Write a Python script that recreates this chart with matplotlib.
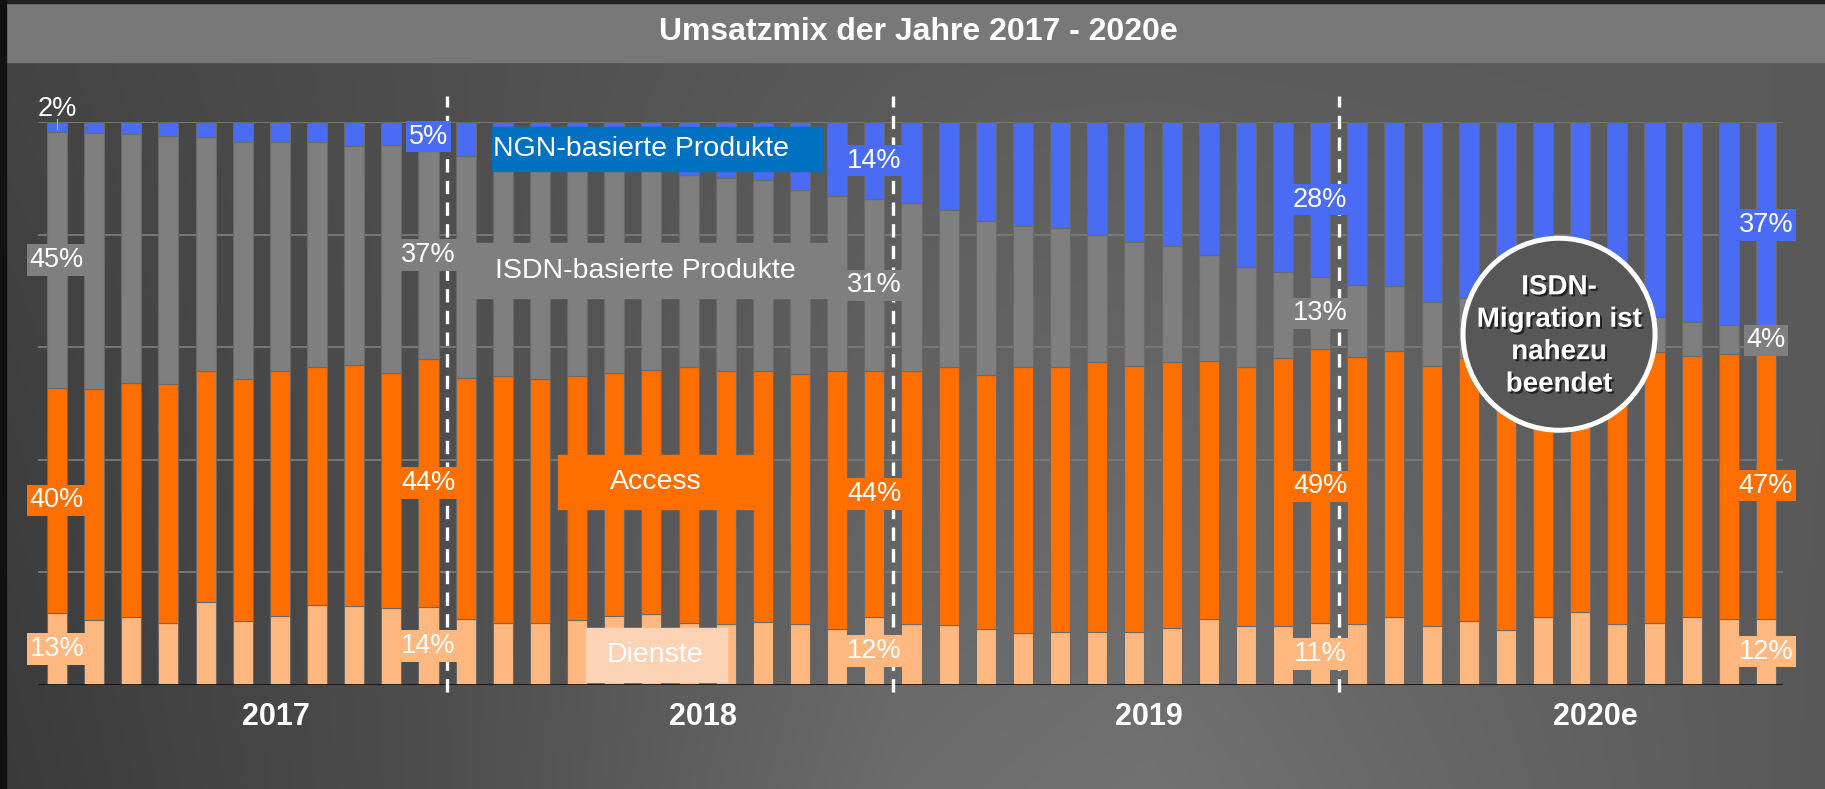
import numpy as np
import matplotlib
matplotlib.use('Agg')
import matplotlib.pyplot as plt
from matplotlib.patches import Rectangle, Ellipse
import matplotlib.patheffects as pe

plt.rcParams['font.family'] = ['Liberation Sans', 'DejaVu Sans']

# ---- data (share of revenue in %, one value per month, Feb 2017 - Dec 2020) ----
years = ['2017', '2018', '2019', '2020e']
months_per_year = [11, 12, 12, 12]
segments = ['Dienste', 'Access', 'ISDN-basierte Produkte', 'NGN-basierte Produkte']

dienste = [12.8, 11.5, 12.1, 11.1, 14.7, 11.4, 12.3, 14.2, 14.0, 13.7, 13.9,
           11.7, 11.1, 11.1, 11.5, 12.3, 12.6, 11.0, 10.8, 11.2, 10.8, 9.9, 12.1,
           10.8, 10.7, 9.9, 9.3, 9.4, 9.4, 9.5, 10.2, 11.7, 10.5, 10.4, 11.0,
           10.8, 12.0, 10.5, 11.4, 9.8, 12.1, 13.0, 10.8, 11.0, 12.1, 11.8, 11.8]
access = [40.0, 41.0, 41.5, 42.4, 41.1, 43.0, 43.5, 42.2, 42.8, 41.8, 44.0,
          42.8, 43.8, 43.3, 43.3, 43.2, 43.3, 45.4, 45.0, 44.6, 44.5, 45.9, 43.6,
          45.0, 45.7, 45.2, 47.1, 47.1, 48.0, 47.2, 47.2, 45.8, 45.9, 47.6, 48.6,
          47.5, 47.3, 46.1, 46.7, 48.7, 45.9, 46.0, 48.5, 48.1, 46.3, 47.0, 47.2]
ngn = [1.8, 1.9, 2.1, 2.4, 2.7, 3.6, 3.6, 3.6, 4.2, 4.0, 5.2,
       6.0, 6.5, 7.0, 7.4, 7.8, 8.3, 9.4, 10.0, 10.3, 12.1, 13.1, 13.7,
       14.3, 15.6, 17.5, 18.4, 18.9, 20.1, 21.4, 22.0, 23.6, 25.7, 26.7, 27.6,
       29.0, 29.2, 31.9, 31.3, 32.4, 33.0, 33.6, 34.2, 34.7, 35.6, 36.1, 36.6]
isdn = [100 - d - a - n for d, a, n in zip(dienste, access, ngn)]

labelled_bars = [0, 10, 22, 34, 46]

colors = ['#FFB880', '#FF6F00', '#7F7F7F', '#4A6BF4']
box_colors = ['#FDD3B6', '#FF6F00', '#7F7F7F', '#0070C0']

# ---- figure ----
W, H = 1825, 789
fig = plt.figure(figsize=(W / 100, H / 100), dpi=100)

# background gradient
bg = fig.add_axes([0, 0, 1, 1])
xs = np.arange(W)
top = np.interp(xs, [0, 600, 1000, 1825], [68, 82, 90, 90])
bot = np.interp(xs, [0, 450, 900, 1150, 1400, 1825], [58, 78, 108, 114, 104, 88])
t = (np.arange(H) / H)[:, None]
grey = (top[None, :] * (1 - t) + bot[None, :] * t) / 255.0
bg.imshow(np.dstack([grey] * 3), extent=[0, 1, 0, 1], aspect='auto', origin='upper')
bg.add_patch(Rectangle((6 / W, 1 - 62 / H), 1, 59 / H, color='#787878'))
bg.add_patch(Rectangle((0, 1 - 3 / H), 1, 3 / H, color='#202020'))
bg.add_patch(Rectangle((0, 0), 6 / W, 1, color='#111111'))
bg.set_xlim(0, 1)
bg.set_ylim(0, 1)
bg.axis('off')

fig.text(0.503, 1 - 31.5 / H, 'Umsatzmix der Jahre 2017 - 2020e', color='white',
         fontsize=23, fontweight='bold', ha='center', va='center')

ax = fig.add_axes([38 / W, 1 - 685 / H, 1745 / W, 563 / H])
ax.set_facecolor('none')
ax.set_xlim(-0.511, 46.458)
ax.set_ylim(0, 100)
ax.axis('off')

for g in [20, 40, 60, 80, 100]:
    ax.axhline(g, color='#7a7a7a', lw=1.3, zorder=1)

x = np.arange(len(dienste))
series = [dienste, access, isdn, ngn]
bottom = np.zeros(len(x))
for vals, c in zip(series, colors):
    ax.bar(x, vals, bottom=bottom, width=0.54, color=c, edgecolor='#6a6a6a',
           linewidth=0.8, zorder=2)
    bottom += np.array(vals)
ax.axhline(0, color='#111111', lw=2, zorder=3)

# year dividers and labels
start = 0
for i, (yr, n) in enumerate(zip(years, months_per_year)):
    ax.text(start + (n - 1) / 2 + 0.9, -5.7, yr, color='white', fontsize=22,
            fontweight='bold', ha='center', va='center')
    start += n
    if i < len(years) - 1:
        ax.plot([start - 0.5, start - 0.5], [-1.2, 104.6], color='white', lw=2.4,
                dashes=(4, 2.5), zorder=6, clip_on=False)

# data labels
for b in labelled_bars:
    base = 0
    for k, vals in enumerate(series):
        v = vals[b]
        yc = base + v / 2
        base += v
        txt = f'{v:.0f}%'
        if b == 0 and k == 3:
            ax.text(b, 102.3, txt, color='white', fontsize=19.5, ha='center',
                    va='center', zorder=7, clip_on=False)
            ax.plot([b, b], [98.8, 100.6], color='#bbbbbb', lw=0.8, zorder=7,
                    clip_on=False)
            continue
        ax.text(b, yc, txt, color='white', fontsize=19.5, ha='center', va='center',
                zorder=7, bbox=dict(boxstyle='square,pad=0.1', fc=colors[k], ec='none'))

# category labels
def cat_label(x0, x1, y0, y1, k, tx, ha):
    ax.add_patch(Rectangle((x0, y0), x1 - x0, y1 - y0, color=box_colors[k], zorder=4))
    ax.text(tx, (y0 + y1) / 2, segments[k], color='white',
            fontsize=20.5, ha=ha, va='center', zorder=5)

cat_label(11.71, 20.62, 91.3, 99.1, 3, 11.73, 'left')
cat_label(11.12, 21.08, 68.7, 78.5, 2, 11.79, 'left')
cat_label(13.49, 18.73, 31.3, 40.9, 1, 16.12, 'center')
cat_label(14.24, 18.03, 0.5, 10.1, 0, 16.08, 'center')

# annotation circle
ax.add_patch(Ellipse((40.43, 62.3), 96 * 2 / 37.15, 96 * 2 / 5.63, fc='#575757',
                     ec='white', lw=3.6, zorder=8, clip_on=False))
ax.text(40.43, 62.0, 'ISDN-\nMigration ist\nnahezu\nbeendet', color='white',
        fontsize=20, fontweight='bold', ha='center', va='center', zorder=9,
        linespacing=1.32,
        path_effects=[pe.withSimplePatchShadow(offset=(1.5, -1.5), shadow_rgbFace='black', alpha=0.6)])

fig.savefig('out.png', dpi=100)
